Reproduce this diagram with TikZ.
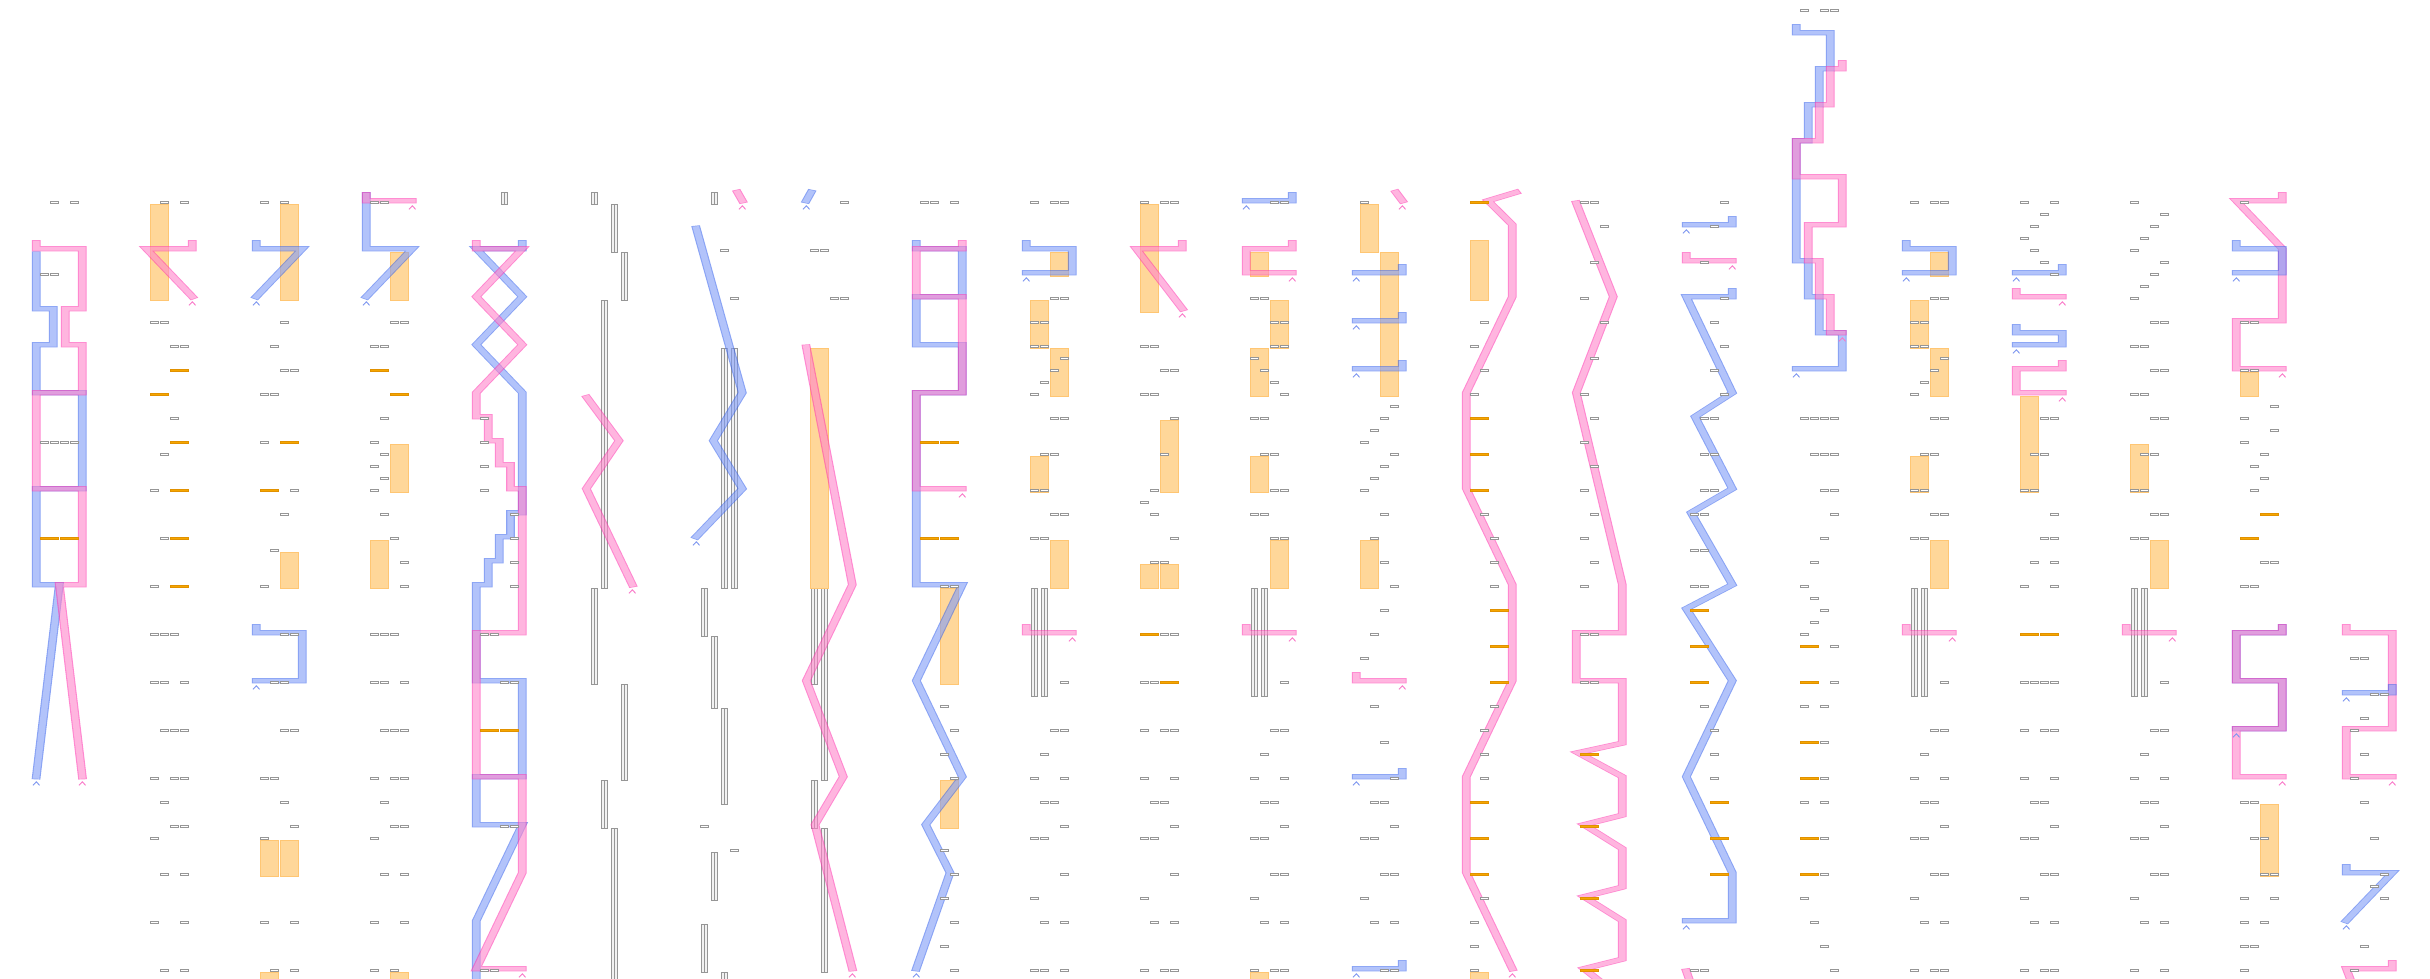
\documentclass[tikz,border=0pt]{standalone}
\usepackage{tikz}
\definecolor{Bi}{RGB}{128,155,248}
\definecolor{Bo}{RGB}{60,103,238}
\definecolor{Pi}{RGB}{255,133,202}
\definecolor{Po}{RGB}{255,57,177}
\definecolor{Bc}{RGB}{125,150,240}
\definecolor{Pc}{RGB}{250,120,200}
\definecolor{tokc}{RGB}{150,150,150}
\definecolor{obarf}{RGB}{245,166,0}
\definecolor{obard}{RGB}{225,145,0}
\definecolor{orectf}{RGB}{255,215,153}
\definecolor{orectd}{RGB}{255,198,115}
\tikzset{
 tok/.style={draw=tokc,fill=white,line width=0.75pt},
 obar/.style={draw=obard,fill=obarf,line width=0.6pt},
 orect/.style={draw=orectd,fill=orectf,line width=0.8pt},
 bund/.style={draw=tokc,fill=black!5,line width=0.6pt}
}
\newcommand\tks[3]{\foreach \s in {#3}{\draw[tok] ({110*#1+40+10*\s},{12*#2+9.2}) rectangle ++(8.7,2.3);}}
\newcommand\ob[3]{\draw[obar] ({110*#1+40+10*#3},{12*#2+9.2}) rectangle ++(18.7,2.3);}
\newcommand\orect[4]{\draw[orect] ({110*#1+40+10*#2},{12*#3+12}) rectangle ++(18.7,{12*(#4-#3)});}
\newcommand\bund[4]{\draw[bund] ({110*#1+41+10*#2},{12*#3+12}) rectangle ++(3,{12*(#4-#3)});\draw[bund] ({110*#1+44.7+10*#2},{12*#3+12}) rectangle ++(3,{12*(#4-#3)});}
\newcommand\band[3]{%
\begin{scope}[transparency group,opacity=0.6]
\path ({110*#1-6},-2) rectangle ({110*#1+116},990);
\begin{scope}[transform canvas={yscale=0.61}]
\begin{scope}[shift={(110*#1pt,-14.262pt)},y=-19.6721pt]
\draw[line width=8.7pt,#2o,line join=miter,miter limit=6,line cap=rect] #3;
\draw[line width=6.4pt,#2i,line join=miter,miter limit=6,line cap=rect] #3;
\end{scope}\end{scope}\end{scope}}
\newcommand\chev[4]{\draw[#4c,line width=0.9pt] ({110*#1+#2-3.3},{12*#3+17.3}) -- ({110*#1+#2},{12*#3+13.8}) -- ({110*#1+#2+3.3},{12*#3+17.3});}
\begin{document}
\begin{tikzpicture}[x=1pt,y=-1pt]
\fill[white] (0,0) rectangle (2430,978);
% ---------- bundles ----------
\bund{4}{2}{15}{16}
\bund{5}{0}{15}{16}\bund{5}{2}{16}{20}\bund{5}{3}{20}{24}\bund{5}{1}{24}{48}\bund{5}{0}{48}{56}\bund{5}{3}{56}{64}\bund{5}{1}{64}{68}\bund{5}{2}{68}{82}
\bund{6}{1}{15}{16}\bund{6}{2}{28}{48}\bund{6}{3}{28}{48}\bund{6}{0}{48}{52}\bund{6}{1}{52}{58}\bund{6}{2}{58}{66}\bund{6}{1}{70}{74}\bund{6}{0}{76}{80}\bund{6}{2}{80}{82}
\bund{7}{0}{48}{56}\bund{7}{1}{48}{64}\bund{7}{0}{64}{68}\bund{7}{1}{68}{80}
\bund{9}{0}{48}{57}\bund{9}{1}{48}{57}
\bund{11}{0}{48}{57}\bund{11}{1}{48}{57}
\bund{17}{0}{48}{57}\bund{17}{1}{48}{57}
\bund{19}{0}{48}{57}\bund{19}{1}{48}{57}
% ---------- orange rects ----------
\orect{1}{0}{16}{24}
\orect{2}{2}{16}{24}\orect{2}{2}{45}{48}\orect{2}{0}{69}{72}\orect{2}{2}{69}{72}\orect{2}{0}{80}{82}
\orect{3}{2}{20}{24}\orect{3}{2}{36}{40}\orect{3}{0}{44}{48}\orect{3}{2}{80}{82}
\orect{7}{0}{28}{48}
\orect{8}{2}{48}{56}\orect{8}{2}{64}{68}
\orect{9}{2}{20}{22}\orect{9}{0}{24}{28}\orect{9}{2}{28}{32}\orect{9}{0}{37}{40}\orect{9}{2}{44}{48}
\orect{10}{0}{16}{25}\orect{10}{2}{34}{40}\orect{10}{0}{46}{48}\orect{10}{2}{46}{48}
\orect{11}{0}{20}{22}\orect{11}{2}{24}{28}\orect{11}{0}{28}{32}\orect{11}{0}{37}{40}\orect{11}{2}{44}{48}\orect{11}{0}{80}{82}
\orect{12}{0}{16}{20}\orect{12}{2}{20}{32}\orect{12}{0}{44}{48}
\orect{13}{0}{19}{24}\orect{13}{0}{80}{82}
\orect{17}{2}{20}{22}\orect{17}{0}{24}{28}\orect{17}{2}{28}{32}\orect{17}{0}{37}{40}\orect{17}{2}{44}{48}
\orect{18}{0}{32}{40}
\orect{19}{0}{36}{40}\orect{19}{2}{44}{48}
\orect{20}{0}{30}{32}\orect{20}{2}{66}{72}
% ---------- bands ----------
% col 0
\band{0}{B}{(36.3,20.45)--(36.3,25)--(53.3,25)--(53.3,28)--(36.3,28)--(36.3,32)--(82.3,32)--(82.3,40)--(36.3,40)--(36.3,48)--(59.3,48)--(36.3,64)}
\band{0}{P}{(36.3,19.5)--(36.3,20)--(82.3,20)--(82.3,25)--(65.3,25)--(65.3,28)--(82.3,28)--(82.3,32)--(36.3,32)--(36.3,40)--(82.3,40)--(82.3,48)--(59.3,48)--(82.3,64)}
% col 1
\band{1}{P}{(82.3,19.5)--(82.3,20)--(36.3,20)--(82.3,24)}
% col 2
\band{2}{B}{(36.3,19.5)--(36.3,20)--(82.3,20)--(36.3,24)}
\band{2}{B}{(36.3,51.5)--(36.3,52)--(82.3,52)--(82.3,56)--(36.3,56)}
% col 3
\band{3}{B}{(36.3,15.5)--(36.3,20)--(82.3,20)--(36.3,24)}
\band{3}{P}{(36.3,15.5)--(36.3,16)--(82.3,16)}
% col 4
\band{4}{B}{(82.3,19.5)--(82.3,20)--(36.3,20)--(82.3,24)--(36.3,28)--(82.3,32)--(82.3,42)--(70.5,42)--(70.5,44)--(59.3,44)--(59.3,46)--(48.3,46)--(48.3,48)--(36.3,48)--(36.3,56)--(82.3,56)--(82.3,64)--(36.3,64)--(36.3,68)--(82.3,68)--(36.3,76)--(36.3,82)}
\band{4}{P}{(36.3,19.5)--(36.3,20)--(82.3,20)--(36.3,24)--(82.3,28)--(36.3,32)--(36.3,34)--(48.3,34)--(48.3,36)--(59.3,36)--(59.3,38)--(70.5,38)--(70.5,40)--(82.3,40)--(82.3,52)--(36.3,52)--(36.3,64)--(82.3,64)--(82.3,72)--(36.3,80)--(82.3,80)}
% col 5
\band{5}{P}{(37,32.4)--(69,36)--(36.3,40)--(82.3,48)}
% col 6
\band{6}{P}{(77.5,15.3)--(82.3,16)}
\band{6}{B}{(36.3,18.3)--(82.3,32)--(53.3,36)--(82.3,40)--(36.3,44)}
% col 7
\band{7}{B}{(41,15.3)--(36.3,16)}
\band{7}{P}{(36.3,28.2)--(82.3,48)--(36.3,56)--(73.3,64)--(45,68)--(82.3,80)}
% col 8
\band{8}{B}{(36.3,19.5)--(36.3,20)--(82.3,20)--(82.3,24)--(36.3,24)--(36.3,28)--(82.3,28)--(82.3,32)--(36.3,32)--(36.3,48)--(82.3,48)--(36.3,56)--(82.3,64)--(45.7,68)--(70,72)--(36.3,80)}
\band{8}{P}{(82.3,19.5)--(82.3,20)--(36.3,20)--(36.3,24)--(82.3,24)--(82.3,32)--(36.3,32)--(36.3,40)--(82.3,40)}
% col 9
\band{9}{B}{(36.3,19.5)--(36.3,20)--(82.3,20)--(82.3,22)--(36.3,22)}
\band{9}{P}{(36.3,51.5)--(36.3,52)--(82.3,52)}
% col 10
\band{10}{P}{(82.3,19.5)--(82.3,20)--(36.3,20)--(82.3,25)}
% col 11
\band{11}{B}{(82.3,15.5)--(82.3,16)--(36.3,16)}
\band{11}{P}{(82.3,19.5)--(82.3,20)--(36.3,20)--(36.3,22)--(82.3,22)}
\band{11}{P}{(36.3,51.5)--(36.3,52)--(82.3,52)}
% col 12
\band{12}{P}{(76,15.3)--(82.3,16)}
\band{12}{B}{(82.3,21.5)--(82.3,22)--(36.3,22)}
\band{12}{B}{(82.3,25.5)--(82.3,26)--(36.3,26)}
\band{12}{B}{(82.3,29.5)--(82.3,30)--(36.3,30)}
\band{12}{P}{(36.3,55.5)--(36.3,56)--(82.3,56)}
\band{12}{B}{(82.3,63.5)--(82.3,64)--(36.3,64)}
\band{12}{B}{(82.3,79.5)--(82.3,80)--(36.3,80)}
% col 13
\band{13}{P}{(86,15.3)--(58,16)--(82.3,18)--(82.3,24)--(36.3,32)--(36.3,40)--(82.3,48)--(82.3,56)--(36.3,64)--(36.3,72)--(82.3,80)}
% col 14
\band{14}{P}{(36.3,16.2)--(73.3,24)--(36.3,32)--(82.3,48)--(82.3,52)--(36.3,52)--(36.3,56)--(82.3,56)--(82.3,61.2)--(38,62)--(82.3,64)--(82.3,67.2)--(44,68)--(82.3,70)--(82.3,73.2)--(44,74)--(82.3,76)--(82.3,79.2)--(44,80)--(82.3,82.5)}
% col 15
\band{15}{B}{(82.3,17.5)--(82.3,18)--(36.3,18)}
\band{15}{P}{(36.3,20.5)--(36.3,21)--(82.3,21)}
\band{15}{B}{(82.3,23.5)--(82.3,24)--(36.3,24)--(82.3,32)--(45,34)--(82.3,40)--(41,42)--(82.3,48)--(36.3,50)--(82.3,56)--(36.3,64)--(82.3,72)--(82.3,76)--(36.3,76)}
\band{15}{P}{(36.3,80.2)--(46,82.5)}
% col 16
\band{16}{B}{(36.3,1.5)--(36.3,2)--(70.3,2)--(70.3,5)--(59.3,5)--(59.3,8)--(48.3,8)--(48.3,11)--(36.3,11)--(36.3,21)--(48.3,21)--(48.3,24)--(59.3,24)--(59.3,27)--(82.3,27)--(82.3,30)--(36.3,30)}
\band{16}{P}{(82.3,4.5)--(82.3,5)--(70.3,5)--(70.3,8)--(59.3,8)--(59.3,11)--(36.3,11)--(36.3,14)--(82.3,14)--(82.3,18)--(48.3,18)--(48.3,21)--(59.3,21)--(59.3,24)--(70.3,24)--(70.3,27)--(82.3,27)}
% col 17
\band{17}{B}{(36.3,19.5)--(36.3,20)--(82.3,20)--(82.3,22)--(36.3,22)}
\band{17}{P}{(36.3,51.5)--(36.3,52)--(82.3,52)}
% col 18
\band{18}{B}{(82.3,21.5)--(82.3,22)--(36.3,22)}
\band{18}{P}{(36.3,23.5)--(36.3,24)--(82.3,24)}
\band{18}{B}{(36.3,26.5)--(36.3,27)--(82.3,27)--(82.3,28)--(36.3,28)}
\band{18}{P}{(82.3,29.5)--(82.3,30)--(36.3,30)--(36.3,32)--(82.3,32)}
% col 19
\band{19}{P}{(36.3,51.5)--(36.3,52)--(82.3,52)}
% col 20
\band{20}{P}{(82.3,15.5)--(82.3,16)--(36.3,16)--(82.3,20)--(82.3,26)--(36.3,26)--(36.3,30)--(82.3,30)}
\band{20}{B}{(36.3,19.5)--(36.3,20)--(82.3,20)--(82.3,22)--(36.3,22)}
\band{20}{B}{(82.3,51.5)--(82.3,52)--(36.3,52)--(36.3,56)--(82.3,56)--(82.3,60)--(36.3,60)}
\band{20}{P}{(82.3,51.5)--(82.3,52)--(36.3,52)--(36.3,56)--(82.3,56)--(82.3,60)--(36.3,60)--(36.3,64)--(82.3,64)}
% col 21
\band{21}{P}{(36.3,51.5)--(36.3,52)--(82.3,52)--(82.3,60)--(36.3,60)--(36.3,64)--(82.3,64)}
\band{21}{B}{(82.3,56.5)--(82.3,57)--(36.3,57)}
\band{21}{B}{(36.3,71.5)--(36.3,72)--(82.3,72)--(36.3,76)}
\band{21}{P}{(82.3,79.5)--(82.3,80)--(36.3,80)--(50,83)}
% ---------- fix the picture size ----------
\pgfresetboundingbox
\useasboundingbox (0,0) rectangle (2430,978);
% ---------- arrow chevrons ----------
\chev{0}{36.3}{64}{B}\chev{0}{82.3}{64}{P}
\chev{1}{82.3}{24}{P}
\chev{2}{36.3}{24}{B}\chev{2}{36.3}{56}{B}
\chev{3}{36.3}{24}{B}\chev{3}{82.3}{16}{P}
\chev{4}{82.3}{80}{P}
\chev{5}{82.3}{48}{P}
\chev{6}{82.3}{16}{P}\chev{6}{36.3}{44}{B}
\chev{7}{36.3}{16}{B}\chev{7}{82.3}{80}{P}
\chev{8}{36.3}{80}{B}\chev{8}{82.3}{40}{P}
\chev{9}{36.3}{22}{B}\chev{9}{82.3}{52}{P}
\chev{10}{82.3}{25}{P}
\chev{11}{36.3}{16}{B}\chev{11}{82.3}{22}{P}\chev{11}{82.3}{52}{P}
\chev{12}{82.3}{16}{P}\chev{12}{36.3}{22}{B}\chev{12}{36.3}{26}{B}\chev{12}{36.3}{30}{B}\chev{12}{82.3}{56}{P}\chev{12}{36.3}{64}{B}\chev{12}{36.3}{80}{B}
\chev{13}{82.3}{80}{P}
\chev{15}{36.3}{18}{B}\chev{15}{82.3}{21}{P}\chev{15}{36.3}{76}{B}
\chev{16}{36.3}{30}{B}\chev{16}{82.3}{27}{P}
\chev{17}{36.3}{22}{B}\chev{17}{82.3}{52}{P}
\chev{18}{36.3}{22}{B}\chev{18}{82.3}{24}{P}\chev{18}{36.3}{28}{B}\chev{18}{82.3}{32}{P}
\chev{19}{82.3}{52}{P}
\chev{20}{82.3}{30}{P}\chev{20}{36.3}{22}{B}\chev{20}{36.3}{60}{B}\chev{20}{82.3}{64}{P}
\chev{21}{82.3}{64}{P}\chev{21}{36.3}{57}{B}\chev{21}{36.3}{76}{B}
% ---------- tokens ----------
% col 0
\tks{0}{16}{1,3}\tks{0}{22}{0,1}\tks{0}{36}{0,1,2,3}\ob{0}{44}{0}\ob{0}{44}{2}
% col 1
\tks{1}{16}{1,3}\tks{1}{26}{0,1}\tks{1}{28}{2,3}\ob{1}{30}{2}\ob{1}{32}{0}\tks{1}{34}{2}\ob{1}{36}{2}\tks{1}{37}{1}
\tks{1}{40}{0}\ob{1}{40}{2}\tks{1}{44}{1}\ob{1}{44}{2}\tks{1}{48}{0}\ob{1}{48}{2}\tks{1}{52}{0,1,2}\tks{1}{56}{0,1,3}
\tks{1}{60}{1,2,3}\tks{1}{64}{0,2,3}\tks{1}{66}{1}\tks{1}{68}{2,3}\tks{1}{69}{0}\tks{1}{72}{1,3}\tks{1}{76}{0,3}\tks{1}{80}{1,3}
% col 2
\tks{2}{16}{0,2}\tks{2}{26}{2}\tks{2}{28}{1}\tks{2}{30}{2,3}\tks{2}{32}{0,1}\tks{2}{36}{0}\ob{2}{36}{2}\ob{2}{40}{0}\tks{2}{40}{3}
\tks{2}{42}{2}\tks{2}{45}{1}\tks{2}{48}{0}\tks{2}{52}{2,3}\tks{2}{56}{1,2}\tks{2}{60}{2,3}\tks{2}{64}{0,1}\tks{2}{66}{2}\tks{2}{68}{3}
\tks{2}{69}{0}\tks{2}{76}{0,3}\tks{2}{80}{1,3}
% col 3
\tks{3}{16}{0,1}\tks{3}{26}{2,3}\tks{3}{28}{0,1}\ob{3}{30}{0}\ob{3}{32}{2}\tks{3}{34}{1}\tks{3}{36}{0}\tks{3}{37}{1}\tks{3}{38}{0}
\tks{3}{39}{1}\tks{3}{40}{0}\tks{3}{42}{1}\tks{3}{44}{2}\tks{3}{46}{3}\tks{3}{48}{3}\tks{3}{52}{0,1,2}\tks{3}{56}{0,1,3}\tks{3}{60}{1,2,3}
\tks{3}{64}{0,2,3}\tks{3}{66}{1}\tks{3}{68}{2,3}\tks{3}{69}{0}\tks{3}{72}{1,3}\tks{3}{76}{0,3}\tks{3}{80}{0,2}
% col 4
\tks{4}{34}{0}\tks{4}{36}{0}\tks{4}{38}{0}\tks{4}{40}{0}\tks{4}{42}{3}\tks{4}{44}{3}\tks{4}{46}{3}\tks{4}{48}{3}\tks{4}{52}{0,1}
\tks{4}{56}{2,3}\ob{4}{60}{0}\ob{4}{60}{2}\tks{4}{68}{2,3}\tks{4}{80}{0,1}
% col 6
\tks{6}{20}{2}\tks{6}{24}{3}\tks{6}{68}{0}\tks{6}{70}{3}
% col 7
\tks{7}{16}{3}\tks{7}{20}{0,1}\tks{7}{24}{2,3}
% col 8
\tks{8}{16}{0,1,3}\ob{8}{36}{0}\ob{8}{36}{2}\ob{8}{44}{0}\ob{8}{44}{2}\tks{8}{48}{2,3}\tks{8}{58}{2}\tks{8}{60}{3}\tks{8}{62}{2}
\tks{8}{64}{3}\tks{8}{70}{2}\tks{8}{72}{3}\tks{8}{74}{2}\tks{8}{76}{3}\tks{8}{78}{2}\tks{8}{80}{3}
% col 9
\tks{9}{16}{0,2,3}\tks{9}{24}{2,3}\tks{9}{26}{0,1}\tks{9}{28}{0,1}\tks{9}{29}{3}\tks{9}{30}{2}\tks{9}{31}{1}\tks{9}{32}{0}
\tks{9}{34}{2,3}\tks{9}{37}{1,2}\tks{9}{40}{0,1}\tks{9}{42}{2,3}\tks{9}{44}{0,1}\tks{9}{56}{3}\tks{9}{60}{2,3}\tks{9}{62}{1}
\tks{9}{64}{0,3}\tks{9}{66}{1,2}\tks{9}{68}{3}\tks{9}{69}{0,1}\tks{9}{72}{3}\tks{9}{74}{0}\tks{9}{76}{1,3}\tks{9}{80}{0,1,3}
% col 10
\tks{10}{16}{0,2,3}\tks{10}{28}{0,1}\tks{10}{30}{2,3}\tks{10}{32}{0,1}\tks{10}{34}{3}\tks{10}{37}{2}\tks{10}{40}{1}\tks{10}{41}{0}
\tks{10}{42}{1}\tks{10}{44}{3}\tks{10}{46}{1,2}\ob{10}{52}{0}\tks{10}{52}{2,3}\tks{10}{56}{0,1}\ob{10}{56}{2}\tks{10}{60}{0,2,3}
\tks{10}{64}{0,3}\tks{10}{66}{1,2}\tks{10}{68}{3}\tks{10}{69}{0,1}\tks{10}{72}{3}\tks{10}{74}{0}\tks{10}{76}{1,3}\tks{10}{80}{0,2,3}
% col 11
\tks{11}{16}{2,3}\tks{11}{24}{0,1}\tks{11}{26}{2,3}\tks{11}{28}{2,3}\tks{11}{29}{0}\tks{11}{30}{1}\tks{11}{31}{2}\tks{11}{32}{3}
\tks{11}{34}{0,1}\tks{11}{37}{1,2}\tks{11}{40}{2,3}\tks{11}{42}{0,1}\tks{11}{44}{2,3}\tks{11}{56}{3}\tks{11}{60}{2,3}\tks{11}{62}{1}
\tks{11}{64}{0,3}\tks{11}{66}{1,2}\tks{11}{68}{3}\tks{11}{69}{0,1}\tks{11}{72}{2,3}\tks{11}{74}{0}\tks{11}{76}{1,3}\tks{11}{80}{0,2,3}
% col 12
\tks{12}{16}{0}\tks{12}{33}{3}\tks{12}{34}{2}\tks{12}{35}{1}\tks{12}{36}{0}\tks{12}{37}{3}\tks{12}{38}{2}\tks{12}{39}{1}\tks{12}{40}{0}
\tks{12}{42}{2}\tks{12}{44}{1}\tks{12}{46}{2}\tks{12}{48}{3}\tks{12}{50}{2}\tks{12}{52}{1}\tks{12}{54}{0}\tks{12}{58}{1}\tks{12}{61}{2}
\tks{12}{64}{3}\tks{12}{66}{1,2}\tks{12}{68}{3}\tks{12}{69}{0,1}\tks{12}{72}{2,3}\tks{12}{74}{0}\tks{12}{76}{1,3}\tks{12}{80}{2,3}
% col 13
\ob{13}{16}{0}\tks{13}{26}{1}\tks{13}{28}{0}\tks{13}{30}{1}\tks{13}{32}{0}\ob{13}{34}{0}\ob{13}{37}{0}\ob{13}{40}{0}\tks{13}{42}{1}
\tks{13}{44}{2}\tks{13}{46}{2}\tks{13}{48}{2}\ob{13}{50}{2}\ob{13}{53}{2}\ob{13}{56}{2}\tks{13}{58}{2}\tks{13}{60}{1}\tks{13}{62}{1}
\tks{13}{64}{1}\ob{13}{66}{0}\ob{13}{69}{0}\ob{13}{72}{0}\tks{13}{74}{1}\tks{13}{76}{0}\tks{13}{78}{0}\tks{13}{80}{0}
% col 14
\tks{14}{16}{0,1}\tks{14}{18}{2}\tks{14}{21}{1}\tks{14}{24}{0}\tks{14}{26}{2}\tks{14}{29}{1}\tks{14}{32}{0}\tks{14}{34}{1}\tks{14}{36}{0}
\tks{14}{38}{1}\tks{14}{40}{0}\tks{14}{42}{1}\tks{14}{44}{0}\tks{14}{46}{1}\tks{14}{48}{0}\tks{14}{52}{0,1}\tks{14}{56}{0,1}
\ob{14}{62}{0}\ob{14}{68}{0}\ob{14}{74}{0}\ob{14}{80}{0}
% col 15
\tks{15}{16}{3}\tks{15}{18}{2}\tks{15}{21}{1}\tks{15}{24}{3}\tks{15}{26}{2}\tks{15}{28}{3}\tks{15}{30}{2}\tks{15}{32}{3}\tks{15}{34}{1,2}
\tks{15}{37}{1,2}\tks{15}{40}{1,2}\tks{15}{42}{0,1}\tks{15}{45}{0,1}\tks{15}{48}{0,1}\ob{15}{50}{0}\ob{15}{53}{0}\ob{15}{56}{0}
\tks{15}{58}{1}\tks{15}{60}{2}\tks{15}{62}{2}\tks{15}{64}{2}\ob{15}{66}{2}\ob{15}{69}{2}\ob{15}{72}{2}\tks{15}{80}{0,1}
% col 16
\tks{16}{0}{0,2,3}\tks{16}{34}{0,1,2,3}\tks{16}{37}{1,2,3}\tks{16}{40}{2,3}\tks{16}{42}{3}\tks{16}{44}{2}\tks{16}{46}{1}\tks{16}{48}{0}
\tks{16}{49}{1}\tks{16}{50}{2}\tks{16}{51}{1}\tks{16}{52}{0}\ob{16}{53}{0}\tks{16}{53}{3}\ob{16}{56}{0}\tks{16}{56}{3}\tks{16}{58}{0,2}
\ob{16}{61}{0}\tks{16}{61}{2}\ob{16}{64}{0}\tks{16}{64}{2}\tks{16}{66}{0,2}\ob{16}{69}{0}\tks{16}{69}{2}\ob{16}{72}{0}\tks{16}{72}{2}
\tks{16}{74}{0}\tks{16}{76}{1}\tks{16}{78}{2}\tks{16}{80}{3}
% col 17
\tks{17}{16}{0,2,3}\tks{17}{24}{2,3}\tks{17}{26}{0,1}\tks{17}{28}{0,1}\tks{17}{29}{3}\tks{17}{30}{2}\tks{17}{31}{1}\tks{17}{32}{0}
\tks{17}{34}{2,3}\tks{17}{37}{1,2}\tks{17}{40}{0,1}\tks{17}{42}{2,3}\tks{17}{44}{0,1}\tks{17}{56}{3}\tks{17}{60}{2,3}\tks{17}{62}{1}
\tks{17}{64}{0,3}\tks{17}{66}{1,2}\tks{17}{68}{3}\tks{17}{69}{0,1}\tks{17}{72}{2,3}\tks{17}{74}{0}\tks{17}{76}{1,3}\tks{17}{80}{0,2,3}
% col 18
\tks{18}{16}{0,3}\tks{18}{17}{2}\tks{18}{18}{1}\tks{18}{19}{0}\tks{18}{20}{1}\tks{18}{21}{2}\tks{18}{22}{3}\tks{18}{34}{2,3}\tks{18}{37}{1,2}
\tks{18}{40}{0,1}\tks{18}{42}{3}\tks{18}{44}{2,3}\tks{18}{46}{1,3}\tks{18}{48}{0,3}\ob{18}{52}{0}\ob{18}{52}{2}\tks{18}{56}{0,1,2,3}
\tks{18}{60}{0,2,3}\tks{18}{64}{0,3}\tks{18}{66}{1,2}\tks{18}{68}{3}\tks{18}{69}{0,1}\tks{18}{72}{2,3}\tks{18}{74}{0}\tks{18}{76}{1,3}\tks{18}{80}{0,2,3}
% col 19
\tks{19}{16}{0}\tks{19}{17}{3}\tks{19}{18}{2}\tks{19}{19}{1}\tks{19}{20}{0}\tks{19}{21}{3}\tks{19}{22}{2}\tks{19}{23}{1}\tks{19}{24}{0}
\tks{19}{26}{2,3}\tks{19}{28}{0,1}\tks{19}{30}{2,3}\tks{19}{32}{0,1}\tks{19}{34}{2,3}\tks{19}{37}{1,2}\tks{19}{40}{0,1}\tks{19}{42}{2,3}
\tks{19}{44}{0,1}\tks{19}{56}{3}\tks{19}{60}{2,3}\tks{19}{62}{1}\tks{19}{64}{0,3}\tks{19}{66}{1,2}\tks{19}{68}{3}\tks{19}{69}{0,1}
\tks{19}{72}{2,3}\tks{19}{74}{0}\tks{19}{76}{1,3}\tks{19}{80}{0,3}
% col 20
\tks{20}{16}{0}\tks{20}{26}{0,1}\tks{20}{30}{0,1}\tks{20}{33}{3}\tks{20}{34}{0}\tks{20}{35}{3}\tks{20}{36}{0}\tks{20}{37}{2}\tks{20}{38}{1}
\tks{20}{39}{2}\tks{20}{40}{1}\ob{20}{42}{2}\ob{20}{44}{0}\tks{20}{46}{2,3}\tks{20}{48}{0,1}\tks{20}{66}{0,1}\tks{20}{69}{1,2}
\tks{20}{72}{2,3}\tks{20}{74}{0,3}\tks{20}{76}{0,2}\tks{20}{78}{0,1}\tks{20}{80}{0}
% col 21
\tks{21}{54}{0,1}\tks{21}{57}{2,3}\tks{21}{59}{1}\tks{21}{60}{0}\tks{21}{62}{1}\tks{21}{64}{0}\tks{21}{66}{1}\tks{21}{69}{2}
\tks{21}{72}{3}\tks{21}{73}{2}\tks{21}{74}{3}\tks{21}{78}{1}\tks{21}{80}{0}
\end{tikzpicture}
\end{document}
